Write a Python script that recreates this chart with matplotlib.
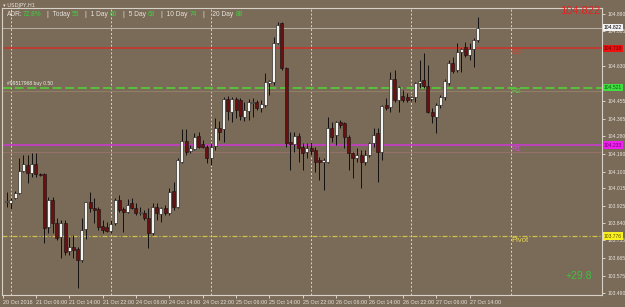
import matplotlib
matplotlib.use('Agg')
import matplotlib.pyplot as plt
import matplotlib.transforms as mtransforms
import numpy as np

# ---------------- data ----------------
opens = [103.949,103.941,103.966,103.991,104.104,104.133,104.091,104.136,104.086,104.086,
 103.820,103.957,103.840,103.773,103.840,103.701,103.720,103.710,103.656,103.810,
 103.949,103.918,103.910,103.827,103.820,103.803,103.843,103.957,103.912,103.898,
 103.941,103.918,103.890,103.893,103.865,103.790,103.920,103.885,103.915,103.890,
 104.004,103.923,104.149,104.254,104.203,104.211,104.278,104.238,104.221,104.166,
 104.228,104.317,104.312,104.462,104.400,104.462,104.459,104.375,104.403,104.442,
 104.450,104.420,104.433,104.542,104.550,104.743,104.843,104.618,104.249,104.236,
 104.280,104.224,104.199,104.216,104.208,104.158,104.149,104.149,104.320,104.283,
 104.350,104.342,104.275,104.191,104.166,104.183,104.149,104.183,104.241,104.292,
 104.199,104.433,104.425,104.562,104.459,104.479,104.475,104.462,104.472,104.542,
 104.559,104.529,104.400,104.372,104.433,104.472,104.542,104.646,104.609,104.701,
 104.723,104.684,104.713,104.759]
highs = [103.997,103.966,104.004,104.166,104.183,104.183,104.191,104.191,104.092,104.091,
 103.974,103.971,103.865,103.857,103.857,103.773,103.782,103.723,103.865,103.949,
 103.999,103.966,103.923,103.857,103.848,103.857,103.966,103.982,103.923,103.961,
 103.966,103.941,103.923,103.907,103.915,103.941,103.944,103.923,103.932,104.016,
 104.049,104.166,104.312,104.312,104.233,104.292,104.300,104.258,104.233,104.241,
 104.367,104.353,104.475,104.479,104.472,104.472,104.467,104.450,104.462,104.467,
 104.459,104.459,104.592,104.559,104.776,104.851,104.851,104.626,104.300,104.300,
 104.292,104.241,104.241,104.249,104.224,104.174,104.166,104.375,104.350,104.353,
 104.358,104.350,104.283,104.199,104.216,104.208,104.208,104.249,104.317,104.317,
 104.433,104.467,104.600,104.609,104.529,104.509,104.492,104.479,104.550,104.659,
 104.693,104.634,104.417,104.442,104.484,104.562,104.659,104.676,104.743,104.718,
 104.751,104.743,104.768,104.876]
lows = [103.923,103.910,103.961,103.987,104.099,104.041,104.074,104.074,104.077,103.740,
 103.793,103.790,103.756,103.665,103.681,103.681,103.665,103.514,103.648,103.760,
 103.898,103.840,103.807,103.790,103.798,103.793,103.832,103.898,103.798,103.890,
 103.910,103.882,103.882,103.857,103.715,103.782,103.857,103.848,103.882,103.882,
 103.907,103.915,104.141,104.183,104.191,104.208,104.216,104.216,104.141,104.133,
 104.208,104.258,104.249,104.358,104.350,104.367,104.358,104.353,104.358,104.375,
 104.408,104.400,104.425,104.484,104.534,104.739,104.609,104.224,104.107,104.199,
 104.149,104.107,104.166,104.183,104.099,104.057,104.007,104.141,104.249,104.233,
 104.317,104.216,104.107,104.066,104.149,104.016,104.133,104.174,104.224,104.049,
 104.158,104.408,104.400,104.450,104.400,104.450,104.450,104.454,104.450,104.517,
 104.517,104.392,104.342,104.292,104.417,104.459,104.534,104.592,104.600,104.600,
 104.676,104.659,104.626,104.751]
closes = [103.952,103.957,103.994,104.104,104.136,104.091,104.138,104.086,104.085,103.818,
 103.957,103.840,103.768,103.840,103.698,103.720,103.706,103.656,103.807,103.946,
 103.918,103.907,103.823,103.807,103.803,103.837,103.957,103.907,103.898,103.932,
 103.918,103.893,103.898,103.865,103.790,103.920,103.890,103.915,103.890,103.999,
 103.923,104.158,104.254,104.199,104.216,104.275,104.224,104.221,104.166,104.224,
 104.317,104.300,104.462,104.403,104.462,104.408,104.378,104.408,104.447,104.450,
 104.420,104.437,104.550,104.555,104.743,104.835,104.618,104.241,104.236,104.280,
 104.216,104.191,104.216,104.203,104.149,104.149,104.158,104.320,104.275,104.350,
 104.333,104.275,104.191,104.166,104.183,104.149,104.183,104.241,104.283,104.199,
 104.428,104.417,104.562,104.459,104.525,104.459,104.459,104.472,104.542,104.555,
 104.529,104.400,104.378,104.433,104.472,104.555,104.646,104.605,104.701,104.713,
 104.684,104.713,104.759,104.822]

time_label_bars = [-1, 7, 15, 23, 31, 39, 47, 55, 63, 71, 79, 87, 95, 103, 111]
time_labels = ['20 Oct 2016', '21 Oct 06:00', '21 Oct 14:00', '21 Oct 22:00',
               '24 Oct 06:00', '24 Oct 14:00', '24 Oct 22:00', '25 Oct 06:00',
               '25 Oct 14:00', '25 Oct 22:00', '26 Oct 06:00', '26 Oct 14:00',
               '26 Oct 22:00', '27 Oct 06:00', '27 Oct 14:00']
day_grid_bars = [1, 25, 49, 73, 97, 121]

price_ticks = [104.890, 104.805, 104.715, 104.630, 104.540, 104.455, 104.365, 104.280,
               104.190, 104.100, 104.015, 103.925, 103.840, 103.755, 103.665, 103.575, 103.490]
hidden_ticks = [104.715, 104.540]  # covered by the level boxes on the scale

level_names = ['R3', 'R2', 'R1', 'Pivot']
level_values = [104.718, 104.521, 104.233, 103.776]
bid_price = 104.822
order_label = '#99517968 buy 0.50'
adr_pct = '72.8%'
range_names = ['Today', '1 Day', '5 Day', '10 Day', '20 Day']
range_values = [55, 60, 68, 74, 88]
pips_change = '+29.8'
symbol = 'USDJPY,H1'

# ---------------- style ----------------
BG = '#7a6a58'
FG = '#e8e4dc'
W, H = 625, 307

fig = plt.figure(figsize=(W / 100, H / 100), dpi=100, facecolor=BG)
ax = fig.add_axes([2 / W, 12 / H, 600 / W, 287 / H], facecolor=BG)
ax.set_xlim(-1.13, 142.76)
ax.set_ylim(103.481, 104.920)

for s in ax.spines.values():
    s.set_color('#d8d2c6')
    s.set_linewidth(0.8)

# day separators
for b in day_grid_bars:
    ax.axvline(b, color='#ddd6c8', lw=0.7, ls=(0, (2, 2)), zorder=1)

# levels
level_colors = ['#c43a2e', '#55c83a', '#c43ec4', '#cfc24a']
level_styles = ['-', (0, (5, 2)), '-', (0, (4, 1.5, 1, 1.5))]
level_widths = [1.3, 1.3, 1.3, 0.9]
for v, c, ls, lw in zip(level_values, level_colors, level_styles, level_widths):
    ax.axhline(v, color=c, lw=lw, ls=ls, zorder=2)
# faint order lines
ax.axhline(level_values[1] - 0.018, color='#8e7f66', lw=0.8, zorder=1.5)
ax.axhline(level_values[2] - 0.035, color='#937068', lw=0.8, zorder=1.5)
# bid line
ax.axhline(bid_price, color='#b9b2a6', lw=0.7, zorder=2)

# candles
O = np.array(opens); Hh = np.array(highs); L = np.array(lows); C = np.array(closes)
x = np.arange(len(O))
up = C >= O
bot = np.minimum(O, C)
hgt = np.maximum(np.abs(C - O), 0.003)
ax.vlines(x, L, Hh, color='#141010', lw=0.7, zorder=3)
ax.bar(x[up], hgt[up], bottom=bot[up], width=0.72, color='#f4f4f0',
       edgecolor='#141010', linewidth=0.4, zorder=4)
ax.bar(x[~up], hgt[~up], bottom=bot[~up], width=0.72, color='#6a1010',
       edgecolor='#141010', linewidth=0.4, zorder=4)

# level names
for name, v, c in zip(level_names, level_values, ['#e04030', '#55d040', '#d050d0', '#e8dc50']):
    ax.text(121.0, v - 0.003, name, color=c, fontsize=5.5, va='top', ha='left',
            family='Liberation Sans', zorder=5)

# order label
ax.text(0.0, level_values[1] + 0.006, order_label, color='#e8f0e0', fontsize=3.6,
        va='bottom', ha='left', family='Liberation Sans', zorder=5)

# axes ticks
ax.yaxis.tick_right()
ax.set_yticks(price_ticks)
ax.set_yticklabels(['' if p in hidden_ticks else '%.3f' % p for p in price_ticks])
ax.tick_params(axis='y', direction='out', length=2.5, width=0.6, color=FG,
               labelcolor=FG, labelsize=3.6, pad=1.5)
for t in ax.get_yticklabels():
    t.set_family('Liberation Sans')
ax.set_xticks(time_label_bars)
ax.set_xticklabels(time_labels)
ax.tick_params(axis='x', direction='out', length=2.5, width=0.6, color=FG,
               labelcolor=FG, labelsize=3.9, pad=1.0)
for t in ax.get_xticklabels():
    t.set_horizontalalignment('left')
    t.set_family('Liberation Sans')

# price boxes on the scale
tr = mtransforms.blended_transform_factory(ax.transAxes, ax.transData)
boxes = [(bid_price, '#f4f4f4', '#000000'),
         (level_values[0], '#f01010', '#600000'),
         (level_values[1], '#40e040', '#106010'),
         (level_values[2], '#f020f0', '#700070'),
         (level_values[3], '#f8f020', '#605000')]
for v, fc, tc in boxes:
    ax.text(1.003, v, '%.3f' % v, transform=tr, fontsize=3.6, color=tc,
            va='center', ha='left', family='Liberation Sans', clip_on=False, zorder=6,
            bbox=dict(boxstyle='square,pad=0.25', fc=fc, ec='none'))

# header texts (figure pixel coords)
def ftext(px, py, s, **kw):
    fig.text(px / W, 1 - py / H, s, **kw)

ftext(3, 5, '\u25be ' + symbol, color=FG, fontsize=3.8, va='center', family='DejaVu Sans')
ftext(7, 14.5, 'ADR:', color=FG, fontsize=4.8, va='center', family='Liberation Sans')
ftext(23, 14.5, adr_pct, color='#40d040', fontsize=4.8, va='center', family='Liberation Sans')
name_x = [47, 85, 123, 161, 203]
val_x = [72, 110, 148, 190, 236]
for i, (n, v) in enumerate(zip(range_names, range_values)):
    lab = '|  ' + n if i < 4 else '|    ' + n
    ftext(name_x[i], 14.5, lab, color=FG, fontsize=4.8, va='center', family='Liberation Sans')
    ftext(val_x[i], 14.5, str(v), color='#40d040', fontsize=4.8, va='center', family='Liberation Sans')

ftext(600, 11.5, '%.3f' % bid_price, color='#e82020', fontsize=8, va='center', ha='right',
      family='Liberation Sans')
ftext(592, 276, pips_change, color='#40c040', fontsize=7.5, va='center', ha='right',
      family='Liberation Sans')

fig.savefig('out.png', dpi=100, facecolor=BG)
